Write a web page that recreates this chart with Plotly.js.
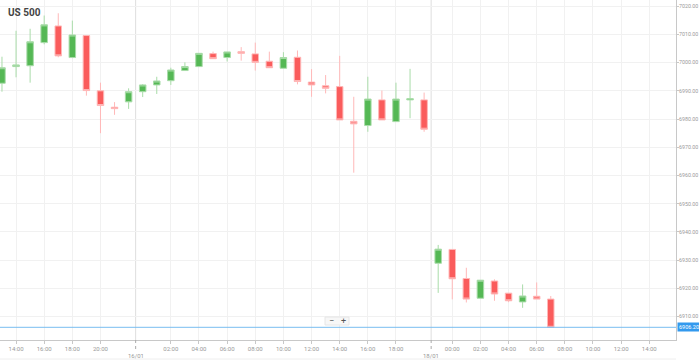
<!DOCTYPE html>
<html>
<head>
<meta charset="utf-8">
<script src="https://cdn.plot.ly/plotly-3.0.1.min.js"></script>
<style>
  html, body { margin: 0; padding: 0; background: #fff; }
  #chart { width: 699px; height: 360px; }
</style>
</head>
<body>
<div id="chart"></div>
<script>
// Hourly candles (index = candle number on a gap-free time axis)
const times = ["13:00","14:00","15:00","16:00","17:00","18:00","19:00","20:00","21:00","22:00",
  "00:00","01:00","02:00","03:00","04:00","05:00","06:00","07:00","08:00","09:00",
  "10:00","11:00","12:00","13:00","14:00","15:00","16:00","17:00","18:00","19:00",
  "20:00","23:00","00:00","01:00","02:00","03:00","04:00","05:00","06:00","07:00"];
const openV  = [6992.7,6998.6,6998.9,7007.1,7013.0,7001.8,7009.6,6990.0,6984.2,6986.1,
  6989.7,6992.1,6993.6,6997.2,6998.6,7003.2,7001.8,7003.9,7003.1,7000.5,
  6998.0,7001.9,6993.1,6991.8,6991.5,6979.2,6977.7,6986.8,6979.1,6986.8,
  6986.8,6928.9,6933.8,6923.5,6916.5,6922.6,6918.3,6915.2,6917.2,6916.2];
const highV  = [7002.1,7011.3,7012.0,7016.7,7017.5,7014.9,7009.8,6992.9,6986.0,6990.9,
  6992.4,6995.0,6998.2,7000.1,7003.3,7003.9,7003.8,7005.5,7007.1,7003.9,
  7003.7,7004.3,6997.7,6995.6,7002.4,6987.9,6995.0,6990.1,6992.9,6997.8,
  6989.4,6935.4,6933.8,6927.3,6922.9,6923.2,6918.3,6921.4,6922.1,6917.3];
const lowV   = [6989.7,6994.8,6992.9,7006.5,7001.9,7001.6,6988.3,6975.0,6981.5,6983.6,
  6987.8,6988.9,6992.1,6997.2,6998.6,7001.4,7000.4,7000.7,6997.2,6998.2,
  6998.0,6992.3,6987.9,6989.1,6979.7,6961.0,6975.5,6979.7,6979.1,6980.3,
  6975.5,6918.4,6916.1,6915.0,6916.5,6915.6,6915.1,6913.1,6916.2,6906.2];
const closeV = [6998.2,6999.2,7007.4,7013.4,7002.4,7009.8,6990.1,6984.8,6983.7,6989.7,
  6992.1,6993.5,6997.4,6998.6,7003.3,7001.4,7003.8,7003.3,7000.1,6998.2,
  7001.8,6993.3,6992.1,6990.9,6979.7,6978.3,6987.1,6979.7,6987.1,6987.2,
  6976.4,6933.9,6923.4,6916.2,6922.9,6918.0,6915.6,6917.3,6916.2,6906.2];

// Axis ticks
const hourTickIdx = [1,3,5,7,12,14,16,18,20,22,24,26,28,32,34,36,38,40,42,44,46];
const hourTickText = ["14:00","16:00","18:00","20:00","02:00","04:00","06:00","08:00","10:00","12:00",
  "14:00","16:00","18:00","00:00","02:00","04:00","06:00","08:00","10:00","12:00","14:00"];
const dayIdx = [9.5, 30.5];
const dayText = ["16/01", "18/01"];
const priceTicks = [6910,6920,6930,6940,6950,6960,6970,6980,6990,7000,7010,7020];

const xIdx = times.map((_, i) => i);
const lastClose = closeV[closeV.length - 1];

const trace = {
  type: 'candlestick',
  x: xIdx,
  open: openV, high: highV, low: lowV, close: closeV,
  increasing: { line: { color: '#a9dca9', width: 1 }, fillcolor: '#55b855' },
  decreasing: { line: { color: '#ffb8b8', width: 1 }, fillcolor: '#fa5c5c' },
  whiskerwidth: 0,
  hoverinfo: 'skip',
  showlegend: false
};

const shapes = [];
const annotations = [];
dayIdx.forEach((d, k) => {
  shapes.push({ type: 'line', xref: 'x', yref: 'paper', x0: d, x1: d, y0: 0, y1: 1,
    line: { color: '#dedede', width: 1 }, layer: 'below' });
  shapes.push({ type: 'line', xref: 'x', yref: 'paper', x0: d, x1: d, y0: 0, y1: -0.028,
    line: { color: '#aaaaaa', width: 1, dash: 'dot' } });
  annotations.push({ xref: 'x', yref: 'paper', x: d, y: -(355-340)/340, xanchor: 'center', yanchor: 'middle',
    text: dayText[k], showarrow: false,
    font: { size: 6, color: '#999', family: 'Roboto, sans-serif' } });
});
// current price line + label
shapes.push({ type: 'line', xref: 'paper', yref: 'y', x0: 0, x1: 1, y0: lastClose, y1: lastClose,
  line: { color: '#79bdf0', width: 1 } });
annotations.push({ xref: 'paper', yref: 'y', x: 1, y: lastClose, xanchor: 'left', yanchor: 'middle',
  xshift: 1, text: lastClose.toFixed(2), showarrow: false, bgcolor: '#3399ee', borderpad: 1,
  font: { size: 5.5, color: '#fff', family: 'Roboto, sans-serif' } });
// zoom control box
shapes.push({ type: 'rect', xref: 'paper', yref: 'paper', x0: 325/676, x1: 349/676,
  y0: (340-325)/340, y1: (340-317)/340, line: { color: '#e6e6e6', width: 1 }, fillcolor: '#f7f7f7' });
annotations.push({ xref: 'paper', yref: 'paper', x: 331/676, y: (340-321)/340, xanchor: 'center', yanchor: 'middle',
  text: '−', showarrow: false, font: { size: 9, color: '#555', family: 'Roboto, sans-serif' } });
annotations.push({ xref: 'paper', yref: 'paper', x: 343/676, y: (340-321)/340, xanchor: 'center', yanchor: 'middle',
  text: '+', showarrow: false, font: { size: 9, color: '#555', family: 'Roboto, sans-serif' } });
// faint bottom border
shapes.push({ type: 'line', xref: 'paper', yref: 'paper', x0: 0, x1: 1, y0: -19/340, y1: -19/340,
  line: { color: '#eeeeee', width: 1 } });

const layout = {
  width: 699, height: 360,
  margin: { l: 0, r: 23, t: 0, b: 20 },
  paper_bgcolor: '#ffffff', plot_bgcolor: '#ffffff',
  font: { family: 'Roboto, sans-serif', size: 6, color: '#999' },
  title: { text: '<b>US 500</b>', x: 8/699, xanchor: 'left', xref: 'container',
    y: 1 - 12/360, yanchor: 'middle', yref: 'container',
    font: { size: 10, color: '#444', family: 'Roboto, sans-serif' } },
  boxgap: 0.34,
  hovermode: false,
  dragmode: false,
  xaxis: {
    type: 'linear', range: [-0.14, 47.9], rangeslider: { visible: false },
    tickvals: hourTickIdx, ticktext: hourTickText,
    showgrid: true, gridcolor: '#f1f1f1', gridwidth: 1,
    zeroline: false, showline: true, linecolor: '#c8c8c8', linewidth: 1,
    ticks: 'outside', ticklen: 3, tickcolor: '#c8c8c8',
    tickfont: { size: 6, color: '#999' }, fixedrange: true
  },
  yaxis: {
    side: 'right', range: [6901.7, 7022.2],
    tickvals: priceTicks, tickformat: '.2f',
    showgrid: true, gridcolor: '#f1f1f1', gridwidth: 1,
    zeroline: false, showline: true, linecolor: '#c8c8c8', linewidth: 1,
    ticks: 'outside', ticklen: 2, tickcolor: '#c8c8c8',
    ticklabelstandoff: -1,
    tickfont: { size: 5.3, color: '#999' }, fixedrange: true
  },
  shapes: shapes,
  annotations: annotations
};

Plotly.newPlot('chart', [trace], layout, { displayModeBar: false, staticPlot: true });
</script>
</body>
</html>
